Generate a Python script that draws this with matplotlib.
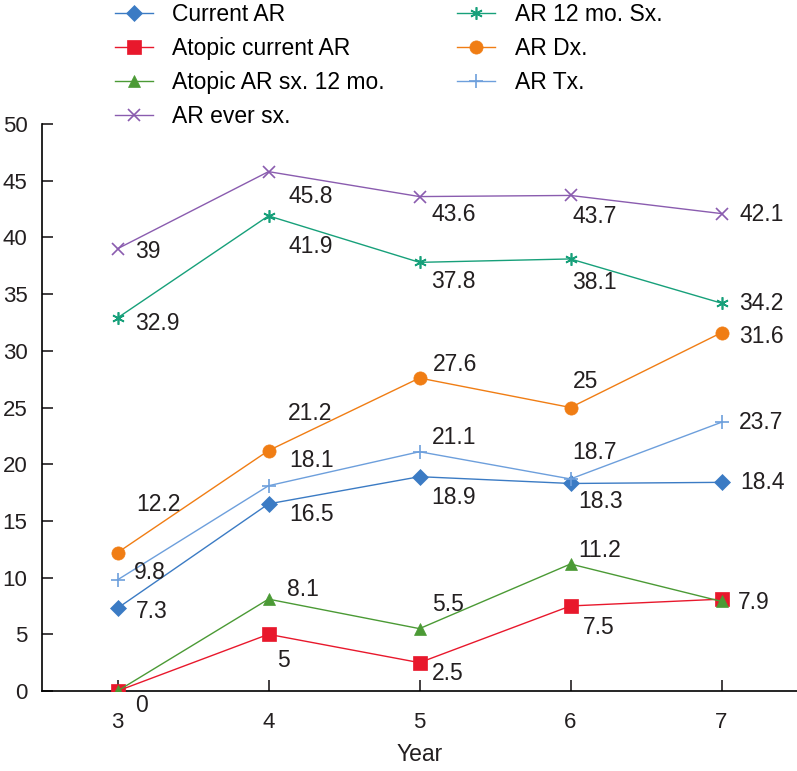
import matplotlib
matplotlib.use("Agg")
from matplotlib import pyplot as plt

plt.rcParams['font.family'] = ['Liberation Sans', 'DejaVu Sans']

years = [3, 4, 5, 6, 7]

current_ar = [7.3, 16.5, 18.9, 18.3, 18.4]
atopic_current_ar = [0, 5, 2.5, 7.5, 8.1]
atopic_sx12 = [0, 8.1, 5.5, 11.2, 7.9]
ar_ever = [39, 45.8, 43.6, 43.7, 42.1]
ar_12mo = [32.9, 41.9, 37.8, 38.1, 34.2]
ar_dx = [12.2, 21.2, 27.6, 25, 31.6]
ar_tx = [9.8, 18.1, 21.1, 18.7, 23.7]

names = ['Current AR', 'Atopic current AR', 'Atopic AR sx. 12 mo.', 'AR ever sx.',
         'AR 12 mo. Sx.', 'AR Dx.', 'AR Tx.']
series = [current_ar, atopic_current_ar, atopic_sx12, ar_ever, ar_12mo, ar_dx, ar_tx]

# text shown next to each point (None = no label)
labels = [
    ['7.3', '16.5', '18.9', '18.3', '18.4'],
    ['0', '5', '2.5', '7.5', None],
    [None, '8.1', '5.5', '11.2', '7.9'],
    ['39', '45.8', '43.6', '43.7', '42.1'],
    ['32.9', '41.9', '37.8', '38.1', '34.2'],
    ['12.2', '21.2', '27.6', '25', '31.6'],
    ['9.8', '18.1', '21.1', '18.7', '23.7'],
]

colors = ['#3b7bc4', '#e8182c', '#4b9a35', '#8a5caf', '#17a07a', '#f07d14', '#6d9fdc']
markers = ['D', 's', '^', 'x', (6, 2, 0), 'o', '+']
msizes = [8, 9.4, 9, 8, 9, 9.5, 9.5]

# label offsets in pixels (dx to left edge, dy to centre)
offsets = [
    [(18, -3), (21, -11), (12, -21), (8, -18), (19, 0)],
    [(18, -14), (9, -26), (12, -11), (12, -22), (0, 0)],
    [(0, 0), (19, 10), (13, 24), (8, 13), (16, -1)],
    [(18, -3), (20, -25), (12, -18), (2, -21), (18, -1)],
    [(18, -6), (20, -31), (12, -19), (2, -24), (18, 0)],
    [(19, 48), (19, 37), (13, 14), (2, 26), (18, -4)],
    [(16, 7), (21, 25), (12, 14), (2, 26), (17, 0)],
]

fig = plt.figure(figsize=(7.97, 7.71), dpi=100)
ax = fig.add_axes([42 / 797, 80 / 771, 1 - 42 / 797, 567 / 771])

for i in [3, 4, 5, 0, 6, 1, 2]:
    mk = markers[i]
    thin = mk in ('x', '+') or isinstance(mk, tuple)
    ax.plot(years, series[i], color=colors[i], lw=1.0, marker=mk, ms=msizes[i],
            mew=1.2 if thin else 0.5, mec=colors[i], mfc=colors[i],
            label=names[i], zorder=3)
    for x, y, t, off in zip(years, series[i], labels[i], offsets[i]):
        if t is None:
            continue
        ax.annotate(t, (x, y), xytext=off, textcoords='offset pixels',
                    ha='left', va='center', fontsize=16.5, color='#231f20')

ax.set_xlim(2.5, 7.5)
ax.set_ylim(0, 50)
ax.set_xticks(years)
ax.set_yticks(range(0, 51, 5))
ax.spines['top'].set_visible(False)
ax.spines['right'].set_visible(False)
ax.spines['left'].set_linewidth(1.2)
ax.spines['bottom'].set_linewidth(1.2)
ax.tick_params(direction='in', length=8, width=1.2, labelsize=16, colors='#231f20')
ax.tick_params(axis='y', pad=10.5)
ax.tick_params(axis='x', pad=15)
ax.set_xlabel('Year', fontsize=16.5, color='#231f20', labelpad=7)

h, l = ax.get_legend_handles_labels()
hd = dict(zip(l, h))
fig.legend([hd[n] for n in names], names, loc='upper left', bbox_to_anchor=(106 / 797, 1.008),
           ncol=2, frameon=False, fontsize=16.5, handlelength=1.65, handletextpad=0.85,
           columnspacing=3.15, labelspacing=0.48, borderaxespad=0)

fig.savefig('out.png', dpi=100)
